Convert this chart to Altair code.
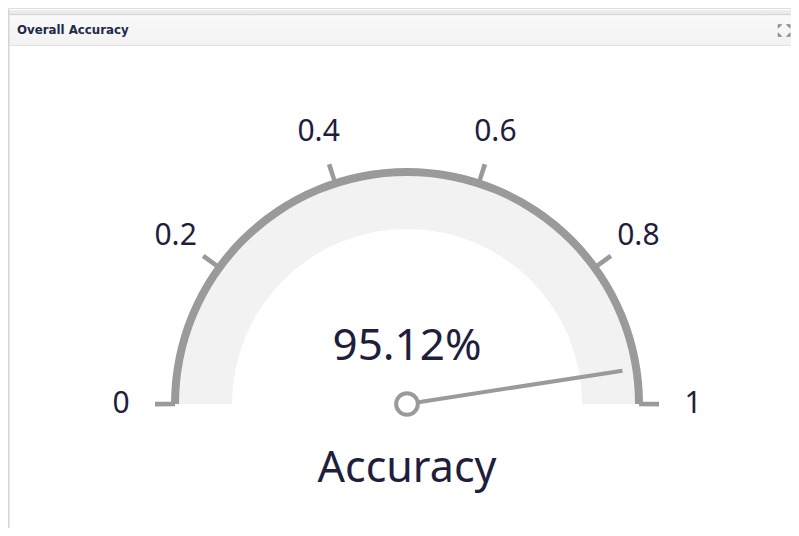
import math
import altair as alt
import pandas as pd

# ---- data ----
gauge_value = [0.9512]
gauge_label = ["Accuracy"]
panel_title = ["Overall Accuracy"]
tick_values = [0, 0.2, 0.4, 0.6, 0.8, 1]
tick_labels = ["0", "0.2", "0.4", "0.6", "0.8", "1"]
icon_glyphs = ["◤", "◥", "◣", "◢"]

# ---- layout / style ----
W, H = 783, 520
CX, CY = 399, 396
GRAY = "#9a9a9a"
BAND = "#f2f2f2"
TXT = "#1f1f3d"
FONT = "Noto Sans"

theta_scale = alt.Scale(domain=[0, 1], range=[-math.pi / 2, math.pi / 2])

val_df = pd.DataFrame({"v": gauge_value, "name": gauge_label})
tick_df = pd.DataFrame({"v": tick_values, "label": tick_labels})
one_df = pd.DataFrame({"title": panel_title})
icon_df = pd.DataFrame({"g": icon_glyphs, "col": [0, 1, 0, 1], "row": [0, 0, 1, 1]})

base_one = alt.Chart(one_df)

# panel frame and header
outer_band = base_one.mark_rect(color="#ececec").encode(
    x=alt.value(0), x2=alt.value(W), y=alt.value(2), y2=alt.value(6))

header = base_one.mark_rect(
    color=alt.LinearGradient(
        gradient="linear",
        stops=[alt.GradientStop(color="#fafafa", offset=0),
               alt.GradientStop(color="#f2f2f2", offset=1)],
        x1=0, x2=0, y1=0, y2=1,
    )
).encode(x=alt.value(0), x2=alt.value(W), y=alt.value(6), y2=alt.value(37))

top_border = base_one.mark_rule(color="#d9d9d9", strokeWidth=1.5).encode(
    x=alt.value(0), x2=alt.value(W), y=alt.value(6.5))
header_bottom = base_one.mark_rule(color="#e2e2e2", strokeWidth=1).encode(
    x=alt.value(0), x2=alt.value(W), y=alt.value(37.5))
left_border = base_one.mark_rule(color="#d6d6d6", strokeWidth=2).encode(
    x=alt.value(0.5), y=alt.value(2), y2=alt.value(H))

title = base_one.mark_text(
    align="left", baseline="middle", font="DejaVu Sans", fontWeight="bold",
    fontSize=11.8, color="#1e2a4a",
).encode(x=alt.value(9), y=alt.value(22), text="title:N")

icon = alt.Chart(icon_df).transform_calculate(
    px="772 + 8*datum.col", py="17.5 + 8*datum.row"
).mark_text(
    align="center", baseline="middle", font="DejaVu Sans", fontSize=6,
    color="#8c8c8c",
).encode(x=alt.X("px:Q", scale=None), y=alt.Y("py:Q", scale=None), text="g:N")

# gauge band and outer line
band = base_one.mark_arc(innerRadius=175, outerRadius=229, color=BAND).encode(
    theta=alt.Theta(datum=0, scale=theta_scale, stack=None),
    theta2=alt.Theta2(datum=1),
    x=alt.value(CX), y=alt.value(CY),
)
outer = base_one.mark_arc(innerRadius=228, outerRadius=236, color=GRAY).encode(
    theta=alt.Theta(datum=0, scale=theta_scale, stack=None),
    theta2=alt.Theta2(datum=1),
    x=alt.value(CX), y=alt.value(CY),
)

# tick marks
ticks = alt.Chart(tick_df).transform_calculate(
    t0="datum.v - 0.003", t1="datum.v + 0.003"
).mark_arc(innerRadius=232, outerRadius=252, color=GRAY).encode(
    theta=alt.Theta("t0:Q", scale=theta_scale, stack=None),
    theta2="t1:Q",
    x=alt.value(CX), y=alt.value(CY),
)

tick_text = alt.Chart(tick_df).mark_text(
    radius=286, font=FONT, fontSize=30, color=TXT, align="center", baseline="middle"
).encode(
    theta=alt.Theta("v:Q", scale=theta_scale, stack=None),
    x=alt.value(CX), y=alt.value(CY),
    text="label:N",
)

# needle
needle = alt.Chart(val_df).transform_calculate(
    cx=f"{CX}", cy=f"{CY}",
    nx=f"{CX} + 218*cos(PI*(1-datum.v))",
    ny=f"{CY} - 218*sin(PI*(1-datum.v))",
).mark_rule(color=GRAY, strokeWidth=4).encode(
    x=alt.X("cx:Q", scale=None), x2="nx:Q",
    y=alt.Y("cy:Q", scale=None), y2="ny:Q",
)

hub = alt.Chart(val_df).mark_point(
    shape="circle", size=470, fill="white", fillOpacity=1, stroke=GRAY,
    strokeWidth=4, opacity=1,
).encode(x=alt.value(CX), y=alt.value(CY))

value_text = alt.Chart(val_df).mark_text(
    font=FONT, fontSize=44, color=TXT, align="center", baseline="middle"
).encode(
    x=alt.value(CX), y=alt.value(339),
    text=alt.Text("v:Q", format=".2%"),
)

name_text = alt.Chart(val_df).mark_text(
    font=FONT, fontSize=43, color=TXT, align="center", baseline="middle"
).encode(
    x=alt.value(CX), y=alt.value(461),
    text="name:N",
)

chart = alt.layer(
    outer_band, header, top_border, header_bottom, left_border, title, icon,
    band, outer, ticks, tick_text, needle, hub, value_text, name_text,
).properties(
    width=W, height=H, autosize=alt.AutoSizeParams(type="none"), padding=0,
).configure_view(stroke=None).configure(background="white")

chart.save("out.html", embed_options={"renderer": "svg", "actions": False})
